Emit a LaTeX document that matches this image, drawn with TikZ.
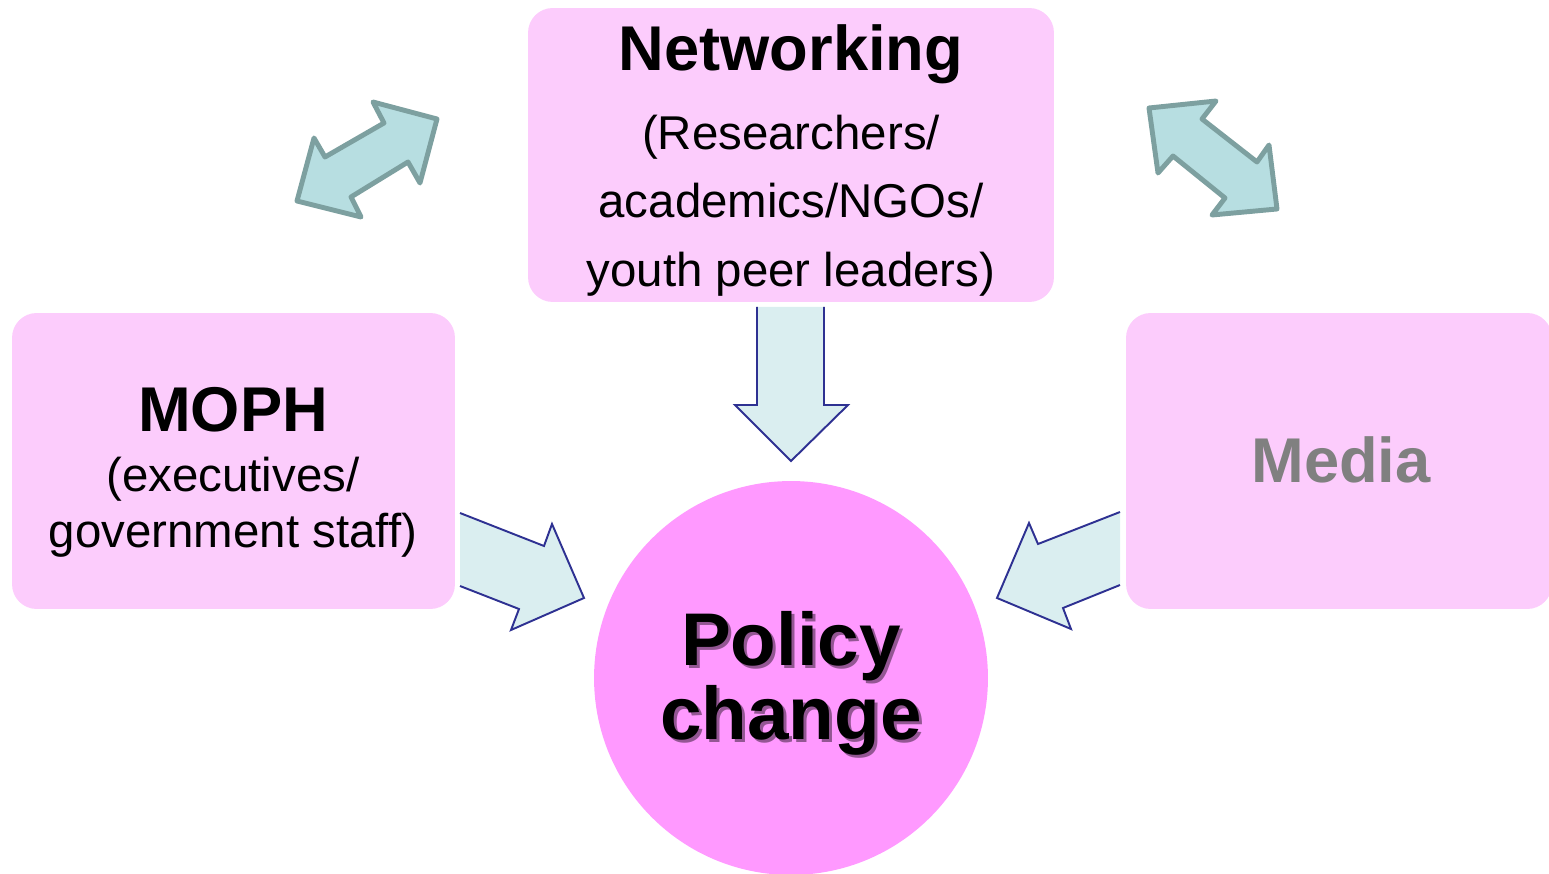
\documentclass[tikz,border=0pt]{standalone}
\usepackage{fontspec}
\setmainfont{Liberation Sans}
\usetikzlibrary{calc}
\definecolor{boxpink}{RGB}{252,204,252}
\definecolor{circpink}{RGB}{255,153,255}
\definecolor{arrfill}{RGB}{218,238,240}
\definecolor{arrline}{RGB}{46,49,146}
\definecolor{dblfill}{RGB}{183,222,225}
\definecolor{dblline}{RGB}{125,160,160}
\definecolor{shadowpurple}{RGB}{120,70,120}
\tikzset{
  box/.style={fill=boxpink, rounded corners=14pt, inner sep=0pt},
  blockarrow/.style={draw=arrline, fill=arrfill, line width=1.1pt, line join=miter},
  dblarrow/.style={draw=dblline, fill=dblfill, line width=2.8pt, line join=round},
  head/.style={anchor=base, font=\bfseries\fontsize{36}{40}\selectfont},
  body/.style={anchor=base, font=\fontsize{27}{32}\selectfont},
  big/.style={anchor=base, font=\bfseries\fontsize{42.5}{48}\selectfont}
}

\begin{document}
\begin{tikzpicture}[x=0.02cm, y=-0.02cm]
\useasboundingbox (0,0) rectangle (1549,874);
\clip (0,0) rectangle (1549,874);
% boxes and circle
\node[box, minimum width=10.52cm, minimum height=5.88cm] (net) at (791,155) {};
\node[box, minimum width=8.86cm, minimum height=5.92cm] (moph) at (233.5,461) {};
\node[box, minimum width=8.52cm, minimum height=5.92cm] (media) at (1339,461) {};
\node[circle, fill=circpink, inner sep=0pt, minimum size=7.88cm] (pol) at (791,678) {};
% texts
\node[head] (netT) at (791,71) {Networking};
\node[body] (net1) at (791,150) {(Researchers/};
\node[body] (net2) at (791,218) {academics/NGOs/};
\node[body] (net3) at (791,287) {youth peer leaders)};
\node[head] (mophT) at (233,432) {MOPH};
\node[body] (moph1) at (233,492) {(executives/};
\node[body] (moph2) at (233,548) {government staff)};
\node[head, text=gray] (mediaT) at (1341,483) {Media};
\node[big, text=shadowpurple, opacity=0.8] at (794,668) {Policy};
\node[big, text=shadowpurple, opacity=0.8] at (794,743) {change};
\node[big] (pol1) at (791,665) {Policy};
\node[big] (pol2) at (791,740) {change};
% block arrows into the circle
\draw[blockarrow] (757,307) -- (757,405) -- (735,405) -- (791,461) -- (848,405) -- (824,405) -- (824,307);
\fill[arrfill] (758,307) rectangle (823,406);
\draw[arrline, line width=1.1pt] (757,307) -- (757,405) (824,307) -- (824,405);
\draw[blockarrow] (460,513) -- (544,546) -- (552,524) -- (584,598) -- (511,630) -- (519,609) -- (460,586);
\draw[blockarrow] (1120,512) -- (1038,544) -- (1029,523) -- (997,598) -- (1071,629) -- (1063,608) -- (1120,585);
% double arrows
\draw[dblarrow] (437,119) -- (373,102) -- (384,123) -- (325,157) -- (314,138) -- (297,201) -- (361,217) -- (351,197) -- (408,162) -- (420,183) -- cycle;
\draw[dblarrow] (1149,108) -- (1216,101) -- (1202,119) -- (1257,162) -- (1269,145) -- (1277,209) -- (1212,215) -- (1225,198) -- (1173,156) -- (1158,173) -- cycle;
\end{tikzpicture}
\end{document}
